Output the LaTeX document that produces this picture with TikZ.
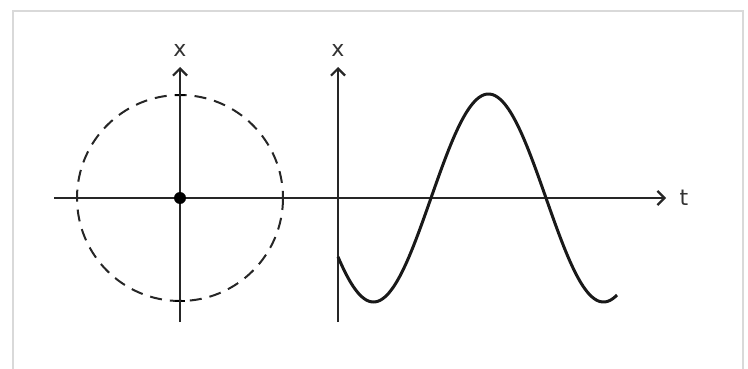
\documentclass[tikz,border=0pt]{standalone}
\usepackage{fontspec}
\setmainfont{DejaVu Sans}
\usetikzlibrary{arrows.meta}
\begin{document}
\begin{tikzpicture}[x=1pt,y=-1pt,
  axis/.style={line width=2.3pt,black!85,-{Straight Barb[length=7pt,width=14pt,line width=2.2pt]}},
  lbl/.style={font=\fontsize{22}{26}\selectfont,inner sep=0pt,text=black!80},
  wave/.style={line width=3pt,black!90}]
\useasboundingbox (0,0) rectangle (748,369);
\draw[black!15,line width=1.5pt] (13,380) -- (13,11) -- (743,11) -- (743,380);
% coordinates
\coordinate (c) at (180,198);
\coordinate (hl) at (54,198);
\coordinate (hr) at (666,198);
\coordinate (v1b) at (180,322);
\coordinate (v1t) at (180,67);
\coordinate (v2b) at (338,322);
\coordinate (v2t) at (338,67);
% circle
\draw[line width=2pt,black!85,dash pattern=on 12pt off 8pt] (c) circle[radius=103];
\draw[line width=1.8pt] (175,95) -- (185,95) (175,301) -- (185,301);
% axes
\draw[axis] (hl) -- (hr);
\draw[axis] (v1b) -- (v1t);
\draw[axis] (v2b) -- (v2t);
\node[lbl] (x1) at (180,50) {x};
\node[lbl] (x2) at (338,50) {x};
\node[lbl] (t) at (684,198) {t};
\fill (c) circle[radius=6];
% wave
\draw[wave,domain=338:617,samples=150,smooth,variable=\u]
  plot ({\u},{198-104*sin(1.5652174*(\u-431))});
\end{tikzpicture}
\end{document}
